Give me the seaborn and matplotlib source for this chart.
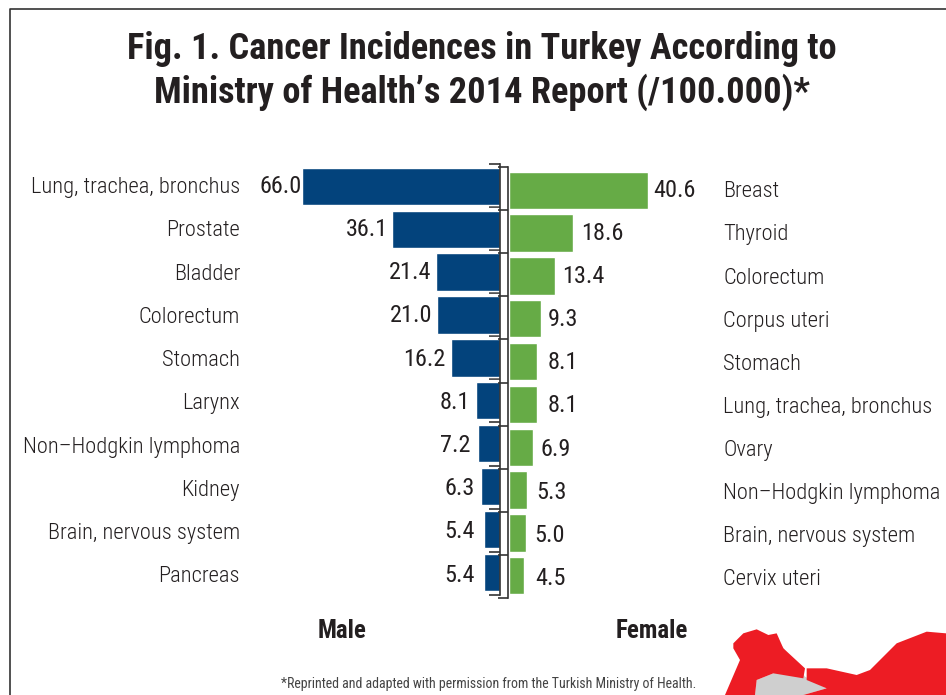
import numpy as np
import seaborn as sns
import matplotlib.pyplot as plt
import pandas as pd
from matplotlib.lines import Line2D
from matplotlib.patches import Polygon

male_sites = ['Lung, trachea, bronchus', 'Prostate', 'Bladder', 'Colorectum', 'Stomach',
              'Larynx', 'Non\u2013Hodgkin lymphoma', 'Kidney', 'Brain, nervous system', 'Pancreas']
male_values = [66.0, 36.1, 21.4, 21.0, 16.2, 8.1, 7.2, 6.3, 5.4, 5.4]
female_sites = ['Breast', 'Thyroid', 'Colorectum', 'Corpus uteri', 'Stomach',
                'Lung, trachea, bronchus', 'Ovary', 'Non\u2013Hodgkin lymphoma',
                'Brain, nervous system', 'Cervix uteri']
female_values = [40.6, 18.6, 13.4, 9.3, 8.1, 8.1, 6.9, 5.3, 5.0, 4.5]

# gap in pixels between each bar and its number
male_gaps = [0, 4, 4, 5, 6, 6, 8, 6, 9, 9]
female_gaps = [5, 8, 7, 6.5, 10.5, 10.5, 8, 9, 8, 11]

W, H = 946, 695
DARK = '#231f20'
LINE = '#333333'
FEMALE_SCALE = 3.43
TEXT_PITCH = 43.2 / 42.9  # the texts sit a little wider apart than the bars

sns.set_theme(style='white')
plt.rcParams['font.family'] = ['Roboto Condensed', 'Roboto', 'DejaVu Sans']
plt.rcParams['text.color'] = DARK

fig = plt.figure(figsize=(W / 100, H / 100), dpi=100)


def px_axes(left, right, top, bottom):
    return fig.add_axes([left / W, 1 - bottom / H, (right - left) / W, (bottom - top) / H])


def style_axis(ax, spine, y_top, y_bottom, sites):
    ax.set_xlabel('')
    ax.set_ylabel('')
    ax.set_yticks([i * TEXT_PITCH - 0.023 for i in range(len(sites))], sites)
    ax.set_ylim(y_bottom, y_top)
    ax.patch.set_alpha(0)
    ax.set_xticks([])
    for s in ax.spines.values():
        s.set_visible(False)
    ax.spines[spine].set_visible(True)
    ax.spines[spine].set_color(LINE)
    ax.spines[spine].set_linewidth(1.2)
    ax.set_yticks(np.linspace(y_top, y_bottom, len(sites) + 1), minor=True)
    ax.tick_params(axis='y', which='major', length=0, pad=0, labelsize=16.2, labelcolor=DARK)
    for tick in ax.yaxis.get_major_ticks():
        tick.label1.set_fontweight(300)
        tick.label2.set_fontweight(300)


def add_numbers(ax, values, gaps, sign, ha):
    for i, (v, g) in enumerate(zip(values, gaps)):
        ax.annotate(f'{v:.1f}', xy=(v, i * TEXT_PITCH), xytext=(sign * g * 0.72, 0),
                    textcoords='offset points', ha=ha, va='center', fontsize=17.5, color=DARK)


# Male side, bars grow to the left
ax_m = px_axes(240, 500, 163.5, 595)
sns.barplot(data=pd.DataFrame({'site': male_sites, 'value': male_values}), x='value', y='site',
            color='#03437c', saturation=1, width=0.87, ax=ax_m)
ax_m.set_xlim(260 / 3, 0)
style_axis(ax_m, 'right', -0.531, 9.527, male_sites)
ax_m.tick_params(axis='y', which='minor', left=False, right=True, direction='in',
                 length=8, width=1.2, color=LINE)
add_numbers(ax_m, male_values, male_gaps, -1, 'right')

# Female side
ax_f = px_axes(508, 723, 167, 598)
sns.barplot(data=pd.DataFrame({'site': female_sites, 'value': female_values}), x='value', y='site',
            color='#66ab46', saturation=1, width=0.87, ax=ax_f)
ax_f.set_xlim(-1 / FEMALE_SCALE, 214 / FEMALE_SCALE)
style_axis(ax_f, 'left', -0.543, 9.52, female_sites)
ax_f.tick_params(axis='y', which='major', labelleft=False, labelright=True, left=False, right=False)
ax_f.tick_params(axis='y', which='minor', left=True, right=False, direction='out',
                 length=7, width=1.2, color=LINE)
add_numbers(ax_f, female_values, female_gaps, 1, 'left')

fig.text(481.5 / W, 1 - 49 / H, 'Fig. 1. Cancer Incidences in Turkey According to',
         ha='center', va='center', fontsize=26.2, fontweight='bold')
fig.text(481.5 / W, 1 - 92 / H, 'Ministry of Health\u2019s 2014 Report (/100.000)*',
         ha='center', va='center', fontsize=26.2, fontweight='bold')
fig.text(342 / W, 1 - 631 / H, 'Male', ha='center', va='center', fontsize=18, fontweight='bold')
fig.text(652 / W, 1 - 631 / H, 'Female', ha='center', va='center', fontsize=18, fontweight='bold')
fig.text(696 / W, 1 - 684 / H, '*Reprinted and adapted with permission from the Turkish Ministry of Health.',
         ha='right', va='center', fontsize=10, color='#444444')

# Frame, open on the right and at the bottom
fig.add_artist(Line2D([10 / W, 10 / W, 1], [0, 1 - 9 / H, 1 - 9 / H], color=LINE, lw=1.2))


def crop_pts(pts):
    return [((640 + x / 3) / W, 1 - (580 + y / 3) / H) for x, y in pts]


shade = [(420, 190), (495, 290), (560, 325), (490, 345), (345, 345), (350, 300), (400, 280)]
thrace = [(280, 190), (310, 160), (350, 148), (385, 165), (410, 160), (430, 205), (495, 265),
          (490, 295), (400, 280), (350, 300), (345, 345), (255, 345), (300, 240), (280, 205)]
anatolia = [(500, 265), (560, 265), (650, 285), (690, 270), (770, 190), (860, 155), (918, 160),
            (918, 345), (490, 345), (560, 325), (500, 300)]
fig.add_artist(Polygon(crop_pts(shade), closed=True, fc='#cfcfcf', ec='none', transform=fig.transFigure))
for pts in (thrace, anatolia):
    fig.add_artist(Polygon(crop_pts(pts), closed=True, fc='#ed1c24', ec='none', transform=fig.transFigure))

plt.savefig('out.png', dpi=100)
